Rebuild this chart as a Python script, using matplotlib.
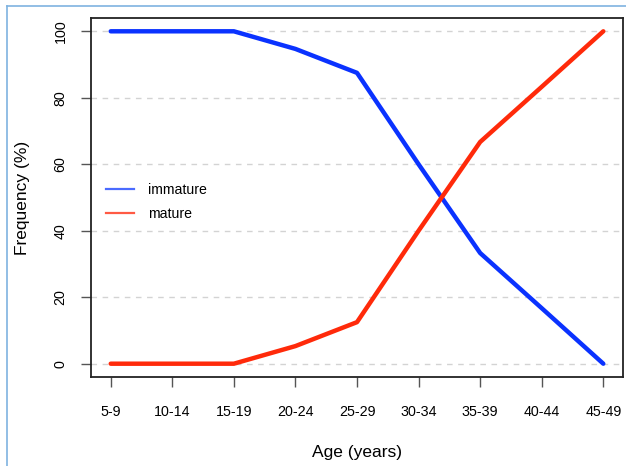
import matplotlib
matplotlib.use('Agg')
import matplotlib.pyplot as plt
from matplotlib.lines import Line2D

plt.rcParams['font.family'] = ['Liberation Sans', 'DejaVu Sans']

# data
age_groups = ['5-9', '10-14', '15-19', '20-24', '25-29', '30-34', '35-39', '40-44', '45-49']
immature = [100, 100, 100, 94.7, 87.5, 60.0, 33.3, 16.7, 0]
mature = [0, 0, 0, 5.3, 12.5, 40.0, 66.7, 83.3, 100]
y_ticks = [0, 20, 40, 60, 80, 100]

blue = '#0a32ff'
red = '#ff2a0a'

fig = plt.figure(figsize=(6.26, 4.66), dpi=100)
ax = fig.add_axes([91 / 626, 1 - 377 / 466, 532 / 626, 359 / 466])

x = list(range(len(age_groups)))
for t in y_ticks:
    ax.axhline(t, color='#d3d3d3', lw=1, ls=(0, (4, 4)), zorder=0)

ax.plot(x, immature, color=blue, lw=3.2, solid_capstyle='round', zorder=3)
ax.plot(x, mature, color=red, lw=3.2, solid_capstyle='round', zorder=3)

ax.set_xlim(-0.32, 8.32)
ax.set_ylim(-4, 104)
ax.set_xticks(x)
ax.set_xticklabels(age_groups, fontsize=10.3)
ax.set_yticks(y_ticks)
ax.set_yticklabels([str(t) for t in y_ticks], fontsize=10.3, rotation=90, va='center')
ax.tick_params(axis='both', direction='out', length=7, width=1, color='#555555')
ax.tick_params(axis='x', pad=13)
ax.tick_params(axis='y', pad=10)
for s in ax.spines.values():
    s.set_color('#222222')
    s.set_linewidth(1.3)

ax.set_xlabel('Age (years)', fontsize=12.5, labelpad=19)
ax.set_ylabel('Frequency (%)', fontsize=12.5, labelpad=17)

handles = [Line2D([], [], color='#4a6bff', lw=1.6), Line2D([], [], color='#ff5a44', lw=1.6)]
ax.legend(handles, ['immature', 'mature'], loc='upper left', bbox_to_anchor=(0.004, 0.577),
          frameon=False, fontsize=10.2, handlelength=2.0, handletextpad=1.0, labelspacing=0.7)

# light blue frame lines at left and top of the image
fig.add_artist(Line2D([7 / 626, 7 / 626], [0, 1 - 6 / 466], color='#7fb3e0', lw=1.2))
fig.add_artist(Line2D([7 / 626, 1], [1 - 6 / 466, 1 - 6 / 466], color='#7fb3e0', lw=1.2))

fig.savefig('out.png', dpi=100)
